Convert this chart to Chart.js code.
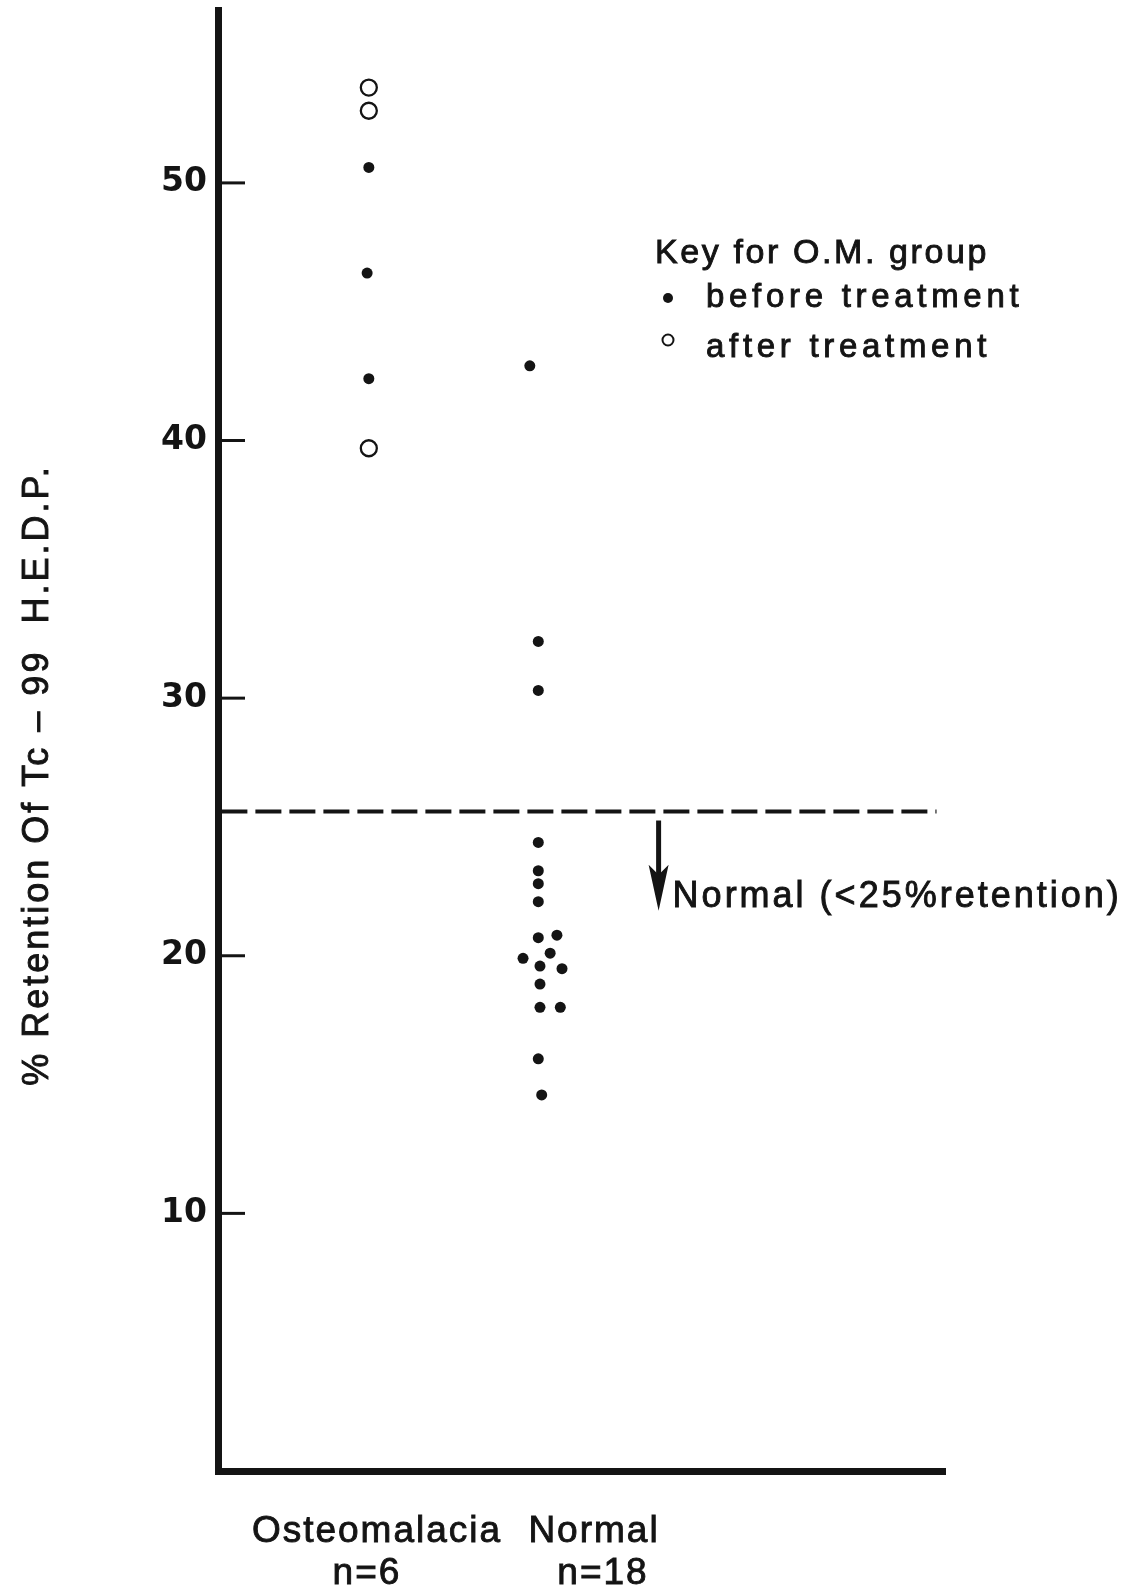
<!DOCTYPE html>
<html>
<head>
<meta charset="utf-8">
<script src="https://cdn.jsdelivr.net/npm/chart.js@4.4.1/dist/chart.umd.min.js"></script>
<style>
  html, body { margin: 0; padding: 0; background: #fff; }
  #wrap { width: 1145px; height: 1587px; position: relative; }
</style>
</head>
<body>
<div id="wrap"><canvas id="chart"></canvas></div>
<script>
// Osteomalacia group (x = 1)
const omBeforeX = [1.0, 0.99, 1.0];
const omBeforeY = [50.6, 46.5, 42.4];
const omAfterX = [1.0, 1.0, 1.0];
const omAfterY = [53.7, 52.8, 39.7];

// Normal group (x = 2, spread sideways as drawn)
const normalX = [1.95, 2.0, 2.0, 2.0, 2.0, 2.0, 2.0, 2.0, 2.11, 1.91, 2.07, 2.01, 2.14, 2.01, 2.01, 2.13, 2.0, 2.02];
const normalY = [42.9, 32.2, 30.3, 24.4, 23.3, 22.8, 22.1, 20.7, 20.8, 19.9, 20.1, 19.6, 19.5, 18.9, 18.0, 18.0, 16.0, 14.6];

// dashed cut-off line
const cutoffX = [0.13, 4.35];
const cutoffY = [25.6, 25.6];

// arrow under the cut-off line
const arrowX = 2.71;
const arrowY = [25.25, 21.75];

const yTicks = [0, 10, 20, 30, 40, 50];
const groupLabels = ['Osteomalacia', 'Normal'];
const groupCounts = ['n=6', 'n=18'];

const ink = '#141414';

function points(xs, ys) {
    return xs.map((x, i) => ({ x: x, y: ys[i] }));
}

function spacedText(ctx, text, x, y, font, spacing, align) {
    ctx.save();
    ctx.font = font;
    ctx.letterSpacing = spacing + 'px';
    ctx.textAlign = align || 'left';
    ctx.textBaseline = 'middle';
    ctx.fillStyle = ink;
    ctx.strokeStyle = ink;
    ctx.lineWidth = 0.9;
    ctx.fillText(text, x, y);
    ctx.strokeText(text, x, y);
    ctx.restore();
}

// tick marks inside the axis, arrow and all the lettering
const extras = {
    id: 'extras',
    afterDraw(chart) {
        const ctx = chart.ctx;
        const area = chart.chartArea;
        const xs = chart.scales.x;
        const ys = chart.scales.y;

        ctx.save();
        ctx.strokeStyle = ink;
        ctx.lineWidth = 3;
        ys.ticks.forEach(t => {
            if (t.value === 0) return;
            const py = ys.getPixelForValue(t.value);
            ctx.beginPath();
            ctx.moveTo(area.left + 2, py);
            ctx.lineTo(area.left + 27, py);
            ctx.stroke();
        });

        // arrow
        const ax = xs.getPixelForValue(arrowX);
        const top = ys.getPixelForValue(arrowY[0]);
        const bot = ys.getPixelForValue(arrowY[1]);
        ctx.lineWidth = 5;
        ctx.beginPath();
        ctx.moveTo(ax, top);
        ctx.lineTo(ax, bot - 20);
        ctx.stroke();
        ctx.fillStyle = ink;
        ctx.beginPath();
        ctx.moveTo(ax - 10, bot - 46);
        ctx.lineTo(ax, bot - 36);
        ctx.lineTo(ax + 10, bot - 46);
        ctx.lineTo(ax, bot);
        ctx.closePath();
        ctx.fill();
        ctx.restore();

        spacedText(ctx, 'Normal (<25%retention)', ax + 14, bot - 14, '36px "Liberation Sans", Arial, sans-serif', 3, 'left');

        // key
        spacedText(ctx, 'Key for O.M. group', 655, 254, '34px "Liberation Sans", Arial, sans-serif', 2.6, 'left');
        ctx.save();
        ctx.fillStyle = ink;
        ctx.strokeStyle = ink;
        ctx.beginPath();
        ctx.arc(668, 298, 5, 0, Math.PI * 2);
        ctx.fill();
        ctx.lineWidth = 2;
        ctx.beginPath();
        ctx.arc(668, 340, 5.5, 0, Math.PI * 2);
        ctx.stroke();
        ctx.restore();
        spacedText(ctx, 'before treatment', 706, 298, '33px "Liberation Sans", Arial, sans-serif', 4.7, 'left');
        spacedText(ctx, 'after treatment', 706, 348, '33px "Liberation Sans", Arial, sans-serif', 4.7, 'left');

        // group names under the axis
        spacedText(ctx, groupLabels[0], 377, 1532, '37px "Liberation Sans", Arial, sans-serif', 2, 'center');
        spacedText(ctx, groupLabels[1], 594, 1532, '37px "Liberation Sans", Arial, sans-serif', 2, 'center');
        spacedText(ctx, groupCounts[0], 367, 1574, '37px "Liberation Sans", Arial, sans-serif', 2, 'center');
        spacedText(ctx, groupCounts[1], 603, 1574, '37px "Liberation Sans", Arial, sans-serif', 2, 'center');

        // y axis title
        ctx.save();
        ctx.translate(38, 775);
        ctx.rotate(-Math.PI / 2);
        spacedText(ctx, '% Retention Of Tc \u2013 99  H.E.D.P.', 0, 0, '36px "Liberation Sans", Arial, sans-serif', 3, 'center');
        ctx.restore();
    }
};

const ctx = document.getElementById('chart').getContext('2d');

const chart = new Chart(ctx, {
    type: 'scatter',
    data: {
        datasets: [
            {
                label: 'O.M. before treatment',
                data: points(omBeforeX, omBeforeY),
                backgroundColor: ink,
                borderColor: ink,
                pointRadius: 5.5,
                borderWidth: 0
            },
            {
                label: 'O.M. after treatment',
                data: points(omAfterX, omAfterY),
                backgroundColor: '#fff',
                borderColor: ink,
                pointRadius: 8,
                borderWidth: 2.3
            },
            {
                label: 'Normal',
                data: points(normalX, normalY),
                backgroundColor: ink,
                borderColor: ink,
                pointRadius: 5.5,
                borderWidth: 0
            },
            {
                label: 'Cut-off',
                data: points(cutoffX, cutoffY),
                showLine: true,
                borderColor: ink,
                borderWidth: 4,
                borderDash: [26, 8],
                pointRadius: 0
            }
        ]
    },
    plugins: [extras],
    options: {
        responsive: true,
        maintainAspectRatio: false,
        animation: false,
        layout: {
            padding: { top: 10, right: 200, bottom: 116, left: 0 }
        },
        plugins: {
            legend: { display: false },
            tooltip: { enabled: false }
        },
        scales: {
            x: {
                type: 'linear',
                min: 0.11,
                max: 4.4,
                grid: { display: false, drawTicks: false },
                border: { display: true, color: ink, width: 7 },
                ticks: { display: false },
                afterFit(scale) {
                    scale.height = 0;
                    scale.paddingLeft = 0;
                    scale.paddingRight = 0;
                }
            },
            y: {
                type: 'linear',
                min: 0,
                max: 56.7,
                grid: { display: false, drawTicks: false },
                border: { display: true, color: ink, width: 7 },
                afterBuildTicks(scale) {
                    scale.ticks = yTicks.map(v => ({ value: v }));
                },
                ticks: {
                    padding: 11,
                    color: ink,
                    font: { family: '"DejaVu Sans", sans-serif', size: 33, weight: 'bold' },
                    callback: v => (v === 0 ? '' : v)
                },
                afterFit(scale) {
                    scale.width = 218;
                    scale.paddingTop = 0;
                    scale.paddingBottom = 0;
                }
            }
        }
    }
});
</script>
</body>
</html>
